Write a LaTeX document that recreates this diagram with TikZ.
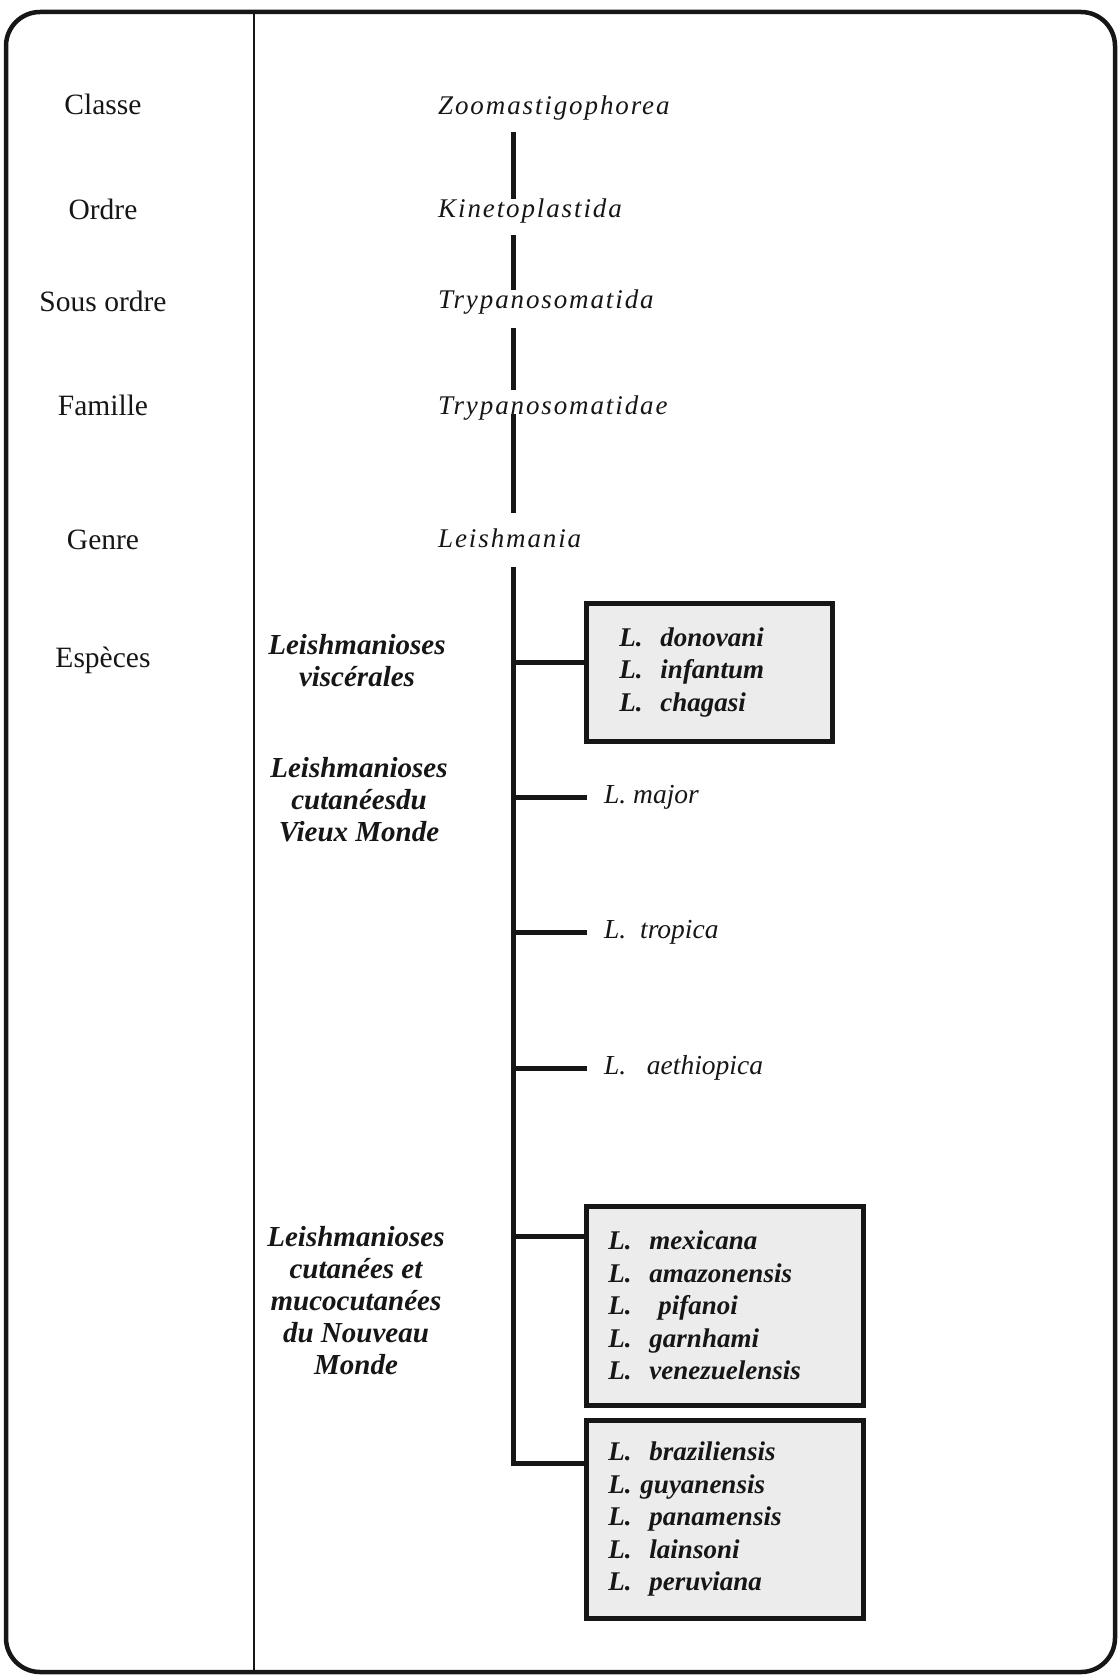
\documentclass[tikz,border=0pt]{standalone}
\usepackage{fontspec}
\setmainfont{Liberation Serif}
\newfontfamily\spacedfont[LetterSpace=7]{Liberation Serif}
\usepackage{tikz}
\usetikzlibrary{positioning,calc}
\definecolor{txInk}  {RGB}{ 22, 22, 22}
\definecolor{txShade}{RGB}{236,236,236}

\begin{document}
\begin{tikzpicture}[
  x=1pt,y=-1pt,
  every node/.style={inner sep=0pt,text=txInk},
  rank/.style ={font=\fontsize{29.5}{32}\selectfont},
  tax/.style  ={font=\spacedfont\itshape\fontsize{27}{30}\selectfont,
                anchor=west,text height=18pt,text depth=6pt},
  grp/.style  ={font=\bfseries\itshape\fontsize{29}{32}\selectfont,align=center},
  sp/.style   ={font=\itshape\fontsize{27.5}{32}\selectfont,anchor=west},
  spbox/.style={draw=txInk,fill=txShade,line width=4.5pt,anchor=north west,
                align=left,font=\bfseries\itshape\fontsize{27}{32.5}\selectfont},
  trunk/.style={line width=5pt,draw=txInk},
  frame/.style={line width=4.5pt,draw=txInk}
]
\useasboundingbox (0,0) rectangle (1117,1675);

% frame and column rule
\draw[frame,rounded corners=34pt] (6,12) rectangle (1115,1672);
\draw[line width=2.5pt,txInk] (254,12) -- (254,1672);

% ranks
\node[rank] (rClasse)  at (103,104) {Classe};
\node[rank] (rOrdre)   at (103,209) {Ordre};
\node[rank] (rSordre)  at (103,301) {Sous ordre};
\node[rank] (rFamille) at (103,405) {Famille};
\node[rank] (rGenre)   at (103,540) {Genre};
\node[rank] (rEsp)     at (103,660) {Espèces};

% taxa
\node[tax] (classe)  at (438,108) {Zoomastigophorea};
\node[tax] (ordre)   at (438,211) {Kinetoplastida};
\node[tax] (sordre)  at (438,302) {Trypanosomatida};
\node[tax] (famille) at (438,408) {Trypanosomatidae};
\node[tax] (genre)   at (438,541) {Leishmania};
\coordinate (spine) at (513,0);

% disease groups
\node[grp] (gVisc) at (357,661)  {Leishmanioses\\viscérales};
\node[grp] (gVieux) at (359,800) {Leishmanioses\\cutanéesdu\\Vieux Monde};
\node[grp] (gNouv) at (356,1301) {Leishmanioses\\cutanées et\\mucocutanées\\du Nouveau\\Monde};

% species
\node[spbox,text width=180pt,inner xsep=33pt,minimum height=138pt] (B1) at (584,601)
  {L.~~donovani\\L.~~infantum\\L.~~chagasi};
\node[sp] (maj) at (604,797)  {L.~major};
\node[sp] (tro) at (604,932)  {L.~~tropica};
\node[sp] (aet) at (604,1068) {L.~~~aethiopica};
\node[spbox,text width=233pt,inner xsep=22pt,minimum height=199pt] (B2) at (584,1204)
  {L.~~mexicana\\L.~~amazonensis\\L.~~~pifanoi\\L.~~garnhami\\L.~~venezuelensis};
\node[spbox,text width=233pt,inner xsep=22pt,minimum height=198pt] (B3) at (584,1418)
  {L.~~braziliensis\\L.~guyanensis\\L.~~panamensis\\L.~~lainsoni\\L.~~peruviana};

\coordinate (j1) at (513,662);
\coordinate (j2) at (513,797);
\coordinate (j3) at (513,932);
\coordinate (j4) at (513,1068);
\coordinate (j5) at (513,1236);
\coordinate (j6) at (513,1463);

\draw[trunk,shorten <=12pt] (classe.south -| spine) -- (ordre.north -| spine);
\draw[trunk,shorten <=12pt] (ordre.south -| spine) -- (sordre.north -| spine);
\draw[trunk,shorten <=14pt,shorten >=6pt] (sordre.south -| spine) -- (famille.north -| spine);
\draw[trunk,shorten >=16pt] (famille.base -| spine) -- (genre.north -| spine);
\draw[trunk,shorten <=14pt] (genre.south -| spine) -- (j6) -- (j6 -| B3.west);
\draw[trunk] (j1) -- (j1 -| B1.west);
\draw[trunk] (j5) -- (j5 -| B2.west);
\foreach \j/\s in {j2/maj,j3/tro,j4/aet}
  \draw[trunk,shorten >=17pt] (\j) -- (\j -| \s.west);
\end{tikzpicture}
\end{document}
